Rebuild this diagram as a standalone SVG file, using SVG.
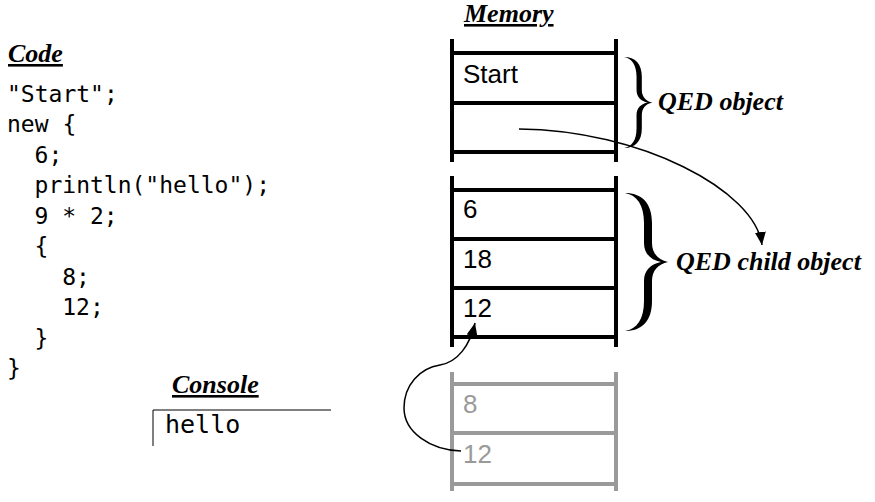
<svg xmlns="http://www.w3.org/2000/svg" xmlns:xlink="http://www.w3.org/1999/xlink" width="875" height="502" viewBox="0 0 875 502">
<style>
.head{font-family:"Liberation Serif","Times New Roman",serif;font-weight:bold;font-style:italic;font-size:26px;text-decoration:underline;fill:#000}
.qed{font-family:"Liberation Serif","Times New Roman",serif;font-weight:bold;font-style:italic;font-size:26px;fill:#000}
.code{font-family:"DejaVu Sans Mono","Liberation Mono",monospace;font-size:23px;fill:#000}
.con{font-family:"DejaVu Sans Mono","Liberation Mono",monospace;font-size:25px;fill:#000}
.cell{font-family:"Liberation Sans",Arial,sans-serif;font-size:26px;fill:#000}
.gcell{font-family:"Liberation Sans",Arial,sans-serif;font-size:26px;fill:#9a9a9a}
.bar{stroke:#000;stroke-width:4;fill:none}
.gbar{stroke:#9a9a9a;stroke-width:4;fill:none}
.thin{stroke:#000;stroke-width:1;fill:none}
.link{stroke:#000;stroke-width:1.5;fill:none;marker-end:url(#arrow)}
</style>
<defs>
<marker id="arrow" markerUnits="userSpaceOnUse" markerWidth="14" markerHeight="12" refX="13" refY="5.5" orient="auto">
<path d="M0,0 L13,5.5 L0,11 Z" fill="#000"/>
</marker>
<path id="brace" d="M0,0 C17,0 27,10 27,30 L27,50 C27,60 33,67 43,69 C33,71 27,78 27,88 L27,108 C27,128 17,138 0,138 C12,136 19,126 19,108 L19,88 C19,77 26,71 36,69 C26,67 19,61 19,50 L19,30 C19,12 12,2 0,0 Z" fill="#000"/>
</defs>
<rect width="875" height="502" fill="#fff"/>

<g id="code">
<text class="head" x="8" y="62">Code</text>
<text class="code" x="7" y="101.5">"Start";</text>
<text class="code" x="7" y="132">new {</text>
<text class="code" x="34.6" y="162.5">6;</text>
<text class="code" x="34.6" y="193">println("hello");</text>
<text class="code" x="34.6" y="223.5">9 * 2;</text>
<text class="code" x="34.6" y="254">{</text>
<text class="code" x="62.2" y="284.5">8;</text>
<text class="code" x="62.2" y="315">12;</text>
<text class="code" x="34.6" y="345.5">}</text>
<text class="code" x="7" y="376">}</text>
</g>

<g id="console">
<text class="head" x="172" y="393">Console</text>
<path class="thin" d="M153,446 L153,410 L331,410"/>
<text class="con" x="165" y="433">hello</text>
</g>

<g id="memory-title">
<text class="head" x="464" y="22">Memory</text>
</g>

<g id="qed-object">
<path class="bar" d="M452,39 L452,162 M616,39 L616,162 M452,53 L616,53 M452,103 L616,103 M452,152 L616,152"/>
<text class="cell" x="463" y="83">Start</text>
<use xlink:href="#brace" transform="translate(624,57) scale(0.66)"/>
<text class="qed" x="658" y="110">QED object</text>
</g>

<g id="qed-child">
<path class="bar" d="M452,176 L452,347 M616,176 L616,347 M452,190 L616,190 M452,239 L616,239 M452,288 L616,288 M452,337 L616,337"/>
<text class="cell" x="463" y="218">6</text>
<text class="cell" x="463" y="268">18</text>
<text class="cell" x="463" y="317">12</text>
<use xlink:href="#brace" transform="translate(625,193)"/>
<text class="qed" x="676" y="270">QED child object</text>
</g>

<g id="inner-block">
<path class="gbar" d="M452,372 L452,491 M616,372 L616,491 M452,384 L616,384 M452,433 L616,433 M452,484 L616,484"/>
<text class="gcell" x="463" y="413">8</text>
<text class="gcell" x="463" y="463">12</text>
</g>

<g id="connectors">
<path class="link" d="M519,129 C640,130 755,190 762,245"/>
<path class="link" d="M461,451 C430,450 404,432 404,408 C404,385 420,368 440,365 C458,362 470,345 475,323"/>
</g>
</svg>
